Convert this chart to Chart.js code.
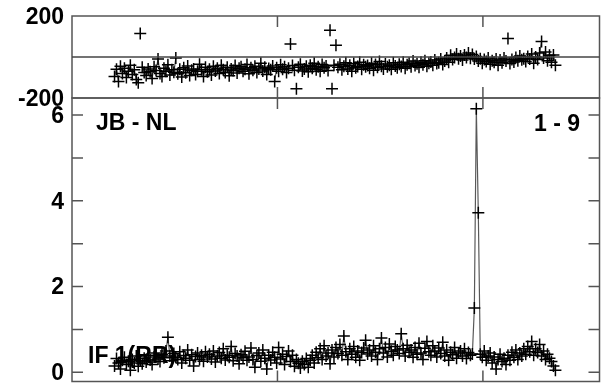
<!DOCTYPE html>
<html><head><meta charset="utf-8">
<script src="https://cdn.jsdelivr.net/npm/chart.js@4.4.1/dist/chart.umd.min.js"></script>
<style>
html,body{margin:0;padding:0;background:#fff;}
#wrap{position:relative;width:607px;height:389px;background:#fff;}
canvas{position:absolute;left:0;top:0;}
</style></head><body>
<div id="wrap"><canvas id="amp" width="607" height="389"></canvas><canvas id="ph" width="607" height="389"></canvas></div>
<script>
// ---- data ----
const startTime = 0.207;     // first sample (axis units)
const sampleStep = 0.009623; // sample interval (axis units)
const amplitude = [
0.15,0.32,0.22,0.08,0.28,0.35,0.18,0.26,0.05,0.30,0.22,0.38,0.14,0.27,0.20,0.33,
0.24,0.40,0.29,0.18,0.36,0.45,0.31,0.25,0.42,0.34,0.50,0.82,0.38,0.27,0.44,0.35,
0.30,0.48,0.22,0.39,0.33,0.52,0.28,0.41,0.15,0.37,0.45,0.30,0.40,0.26,0.48,0.36,
0.42,0.31,0.50,0.24,0.38,0.46,0.33,0.55,0.29,0.40,0.35,0.60,0.27,0.44,0.38,0.20,
0.41,0.34,0.49,0.28,0.36,0.57,0.30,0.12,0.39,0.45,0.26,0.52,0.33,0.08,0.40,0.29,
0.47,0.35,0.22,0.58,0.31,0.42,0.18,0.37,0.50,0.25,0.40,0.14,0.30,0.21,0.10,0.26,
0.18,0.32,0.12,0.28,0.40,0.22,0.47,0.34,0.55,0.30,0.62,0.38,0.45,0.20,0.52,0.36,
0.58,0.44,0.65,0.40,0.85,0.48,0.30,0.55,0.42,0.60,0.35,0.50,0.28,0.46,0.57,0.75,
0.43,0.52,0.38,0.62,0.47,0.30,0.55,0.80,0.45,0.58,0.36,0.66,0.49,0.40,0.60,0.52,
0.44,0.90,0.55,0.38,0.63,0.47,0.52,0.35,0.58,0.42,0.68,0.45,0.30,0.56,0.72,0.48,
0.40,0.62,0.50,0.36,0.57,0.44,0.70,0.38,0.52,0.28,0.47,0.41,0.58,0.33,0.45,0.50,
0.38,0.55,0.32,0.46,0.40,0.43,1.50,6.15,3.72,0.42,0.35,0.50,0.28,0.38,0.45,0.22,
0.36,0.08,0.30,0.42,0.25,0.33,0.18,0.40,0.28,0.47,0.35,0.52,0.30,0.45,0.38,0.55,
0.42,0.60,0.48,0.72,0.40,0.55,0.46,0.65,0.38,0.50,0.30,0.42,0.33,0.25,0.15,0.05
];
const phase = [
-95,-60,-120,-45,-80,-55,-100,-70,-40,-85,-62,-110,-125,115,-50,-75,
-90,-58,-72,-105,-48,-66,-10,-80,-95,-55,-70,-38,-88,-62,-74,-5,
-82,-60,-98,-52,-77,-44,-90,-65,-58,-85,-70,-35,-62,-95,-50,-72,
-60,-88,-45,-68,-55,-80,-40,-62,-75,-50,-92,-58,-66,-42,-78,-55,
-48,-70,-60,-36,-82,-52,-65,-45,-75,-58,-30,-68,-50,-85,-56,-62,
-44,-120,-52,-70,-38,-60,-48,-75,-55,63,-42,-65,-155,-50,-35,-68,
-58,-45,-72,-40,-55,-30,-62,-48,-70,-36,-52,-44,-66,130,-155,-40,
57,-50,-35,-62,-45,-28,-58,-40,-70,-32,-52,-46,-25,-60,-38,-48,
-42,-55,-30,-65,-36,-50,-22,-45,-58,-34,-48,-40,-60,-28,-44,-52,
-35,-46,-25,-55,-38,-30,-48,-20,-42,-33,-50,-26,-38,-18,-45,-30,
-24,-40,-15,-32,-28,-10,-36,-20,-5,-25,8,-12,-2,15,-8,5,
-15,10,-3,20,-6,12,-10,2,-20,-8,-30,-12,-22,-5,-35,-18,
-25,-10,-40,-15,-28,-5,-20,90,-32,-12,-24,-2,-18,5,-14,-8,
-22,2,-10,15,-30,0,-12,20,76,-5,25,-18,8,-25,10,-40
];
const phaseTickLabels = [-200, 200];
const phaseGridValues = [0];
const ampTickLabels = [0, 2, 4, 6];
const ampMinorTicks = [0, 1, 2, 3, 4, 5, 6];
const timeTicks = [1, 2];
const baselineLabel = 'JB - NL';
const channelLabel = '1 - 9';
const ifLabel = 'IF 1(RR)';

// ---- helpers ----
const FAMILY = '"Liberation Sans", Arial, sans-serif';
const toPoints = arr => arr.map((v, i) => ({ x: startTime + i * sampleStep, y: v }));
const X_MIN = 0, X_MAX = 2.5675;
const FRAME = '#555';
const TICK_LEN = 11;

function yAxis(min, max, labels) {
  return {
    min, max,
    afterBuildTicks: s => { s.ticks = labels.map(v => ({ value: v })); },
    afterFit: s => { s.width = 72; s.paddingTop = 0; s.paddingBottom = 0; },
    grid: { display: false, drawTicks: false },
    border: { display: false },
    ticks: { padding: 8, color: '#000', labelOffset: 1.5,
      font: { family: FAMILY, size: 23, weight: 'bold' },
      callback: v => String(v) }
  };
}
const xAxis = { type: 'linear', display: false, min: X_MIN, max: X_MAX };

function frameDraw(chart, minorTicks, gridVals) {
  const { ctx, chartArea: a, scales } = chart;
  ctx.save();
  ctx.strokeStyle = FRAME;
  ctx.lineWidth = 1.5;
  ctx.strokeRect(a.left, a.top, a.right - a.left, a.bottom - a.top);
  ctx.beginPath();
  timeTicks.forEach(t => {
    const px = scales.x.getPixelForValue(t);
    ctx.moveTo(px, a.top); ctx.lineTo(px, a.top + TICK_LEN);
    ctx.moveTo(px, a.bottom); ctx.lineTo(px, a.bottom - TICK_LEN);
  });
  minorTicks.forEach(v => {
    const py = scales.y.getPixelForValue(v);
    ctx.moveTo(a.left, py); ctx.lineTo(a.left + TICK_LEN, py);
    ctx.moveTo(a.right, py); ctx.lineTo(a.right - TICK_LEN, py);
  });
  ctx.stroke();
  ctx.lineWidth = 1.4;
  ctx.strokeStyle = '#444';
  ctx.beginPath();
  gridVals.forEach(v => {
    const py = scales.y.getPixelForValue(v);
    ctx.moveTo(a.left, py); ctx.lineTo(a.right, py);
  });
  ctx.stroke();
  ctx.restore();
}

const dsStyle = {
  borderColor: 'rgba(0,0,0,0.65)', borderWidth: 1.2,
  pointStyle: 'cross', pointRadius: 6, pointBorderColor: '#000',
  pointBorderWidth: 1.5, pointBackgroundColor: '#000', fill: false, tension: 0
};

const common = {
  responsive: false, animation: false, devicePixelRatio: 1, events: [],
  plugins: { legend: { display: false }, tooltip: { enabled: false } }
};

// bottom: amplitude
new Chart(document.getElementById('amp'), {
  type: 'line',
  data: { datasets: [Object.assign({ data: toPoints(amplitude) }, dsStyle)] },
  options: Object.assign({}, common, {
    layout: { padding: { left: 0, top: 98, right: 2.5, bottom: 4 } },
    scales: { x: xAxis, y: yAxis(-0.214, 6.399, ampTickLabels) }
  }),
  plugins: [{
    id: 'ampDecor',
    beforeDatasetsDraw(chart) {
      const ctx = chart.ctx;
      ctx.save();
      ctx.fillStyle = '#000';
      ctx.font = 'bold 23px ' + FAMILY;
      ctx.textBaseline = 'alphabetic';
      ctx.textAlign = 'left';
      ctx.fillText(baselineLabel, 96, 130);
      ctx.fillText(ifLabel, 88, 363);
      ctx.textAlign = 'right';
      ctx.fillText(channelLabel, 580, 131);
      ctx.restore();
    },
    afterDatasetsDraw(chart) { frameDraw(chart, ampMinorTicks, []); }
  }]
});

// top: phase
new Chart(document.getElementById('ph'), {
  type: 'line',
  data: { datasets: [Object.assign({ data: toPoints(phase),
    segment: { borderColor: c => Math.abs(c.p1.parsed.y - c.p0.parsed.y) > 70 ? 'rgba(0,0,0,0)' : undefined }
  }, dsStyle)] },
  options: Object.assign({}, common, {
    layout: { padding: { left: 0, top: 16, right: 2.5, bottom: 291 } },
    scales: { x: xAxis, y: yAxis(-200, 200, phaseTickLabels) }
  }),
  plugins: [{
    id: 'phDecor',
    afterDatasetsDraw(chart) { frameDraw(chart, [], phaseGridValues); }
  }]
});
</script>
</body></html>
